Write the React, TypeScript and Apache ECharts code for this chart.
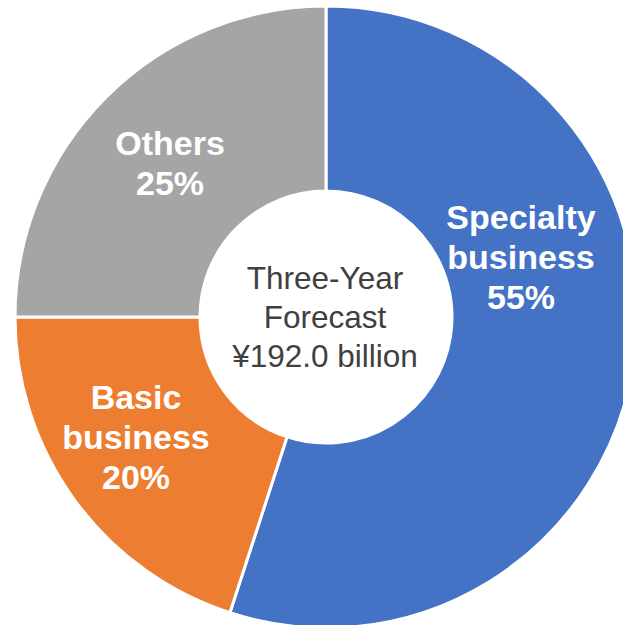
import React, { useEffect, useRef } from "react";
import * as echarts from "echarts";

const categories = ["Specialty\nbusiness", "Basic\nbusiness", "Others"];
const shares = [55, 20, 25];
const colors = ["#4472C4", "#ED7D31", "#A5A5A5"];
const centerLines = ["Three-Year", "Forecast", "¥192.0 billion"];
const labelAnchors: [number, number][] = [
  [521, 257],
  [136, 437],
  [170, 163],
];

export default function App() {
  const ref = useRef<HTMLDivElement>(null);
  useEffect(() => {
    if (!ref.current) return;
    const chart = echarts.init(ref.current, null, { renderer: "svg" });
    chart.setOption({
      animation: false,
      backgroundColor: "#ffffff",
      series: [
        {
          type: "pie",
          center: [326, 317],
          radius: [126, 311],
          startAngle: 90,
          clockwise: true,
          avoidLabelOverlap: false,
          itemStyle: { borderColor: "#ffffff", borderWidth: 3 },
          label: {
            show: true,
            position: "inside",
            color: "#ffffff",
            fontFamily: "Liberation Sans, Arial, sans-serif",
            fontWeight: "bold",
            fontSize: 34,
            lineHeight: 40,
            align: "center",
            verticalAlign: "middle",
            formatter: (p: any) => `${p.name}\n${p.value}%`,
          },
          labelLine: { show: false },
          labelLayout: (params: any) => {
            const a = labelAnchors[params.dataIndex];
            return { x: a[0], y: a[1], align: "center", verticalAlign: "middle" };
          },
          emphasis: { disabled: true },
          data: categories.map((c, i) => ({
            name: c,
            value: shares[i],
            itemStyle: { color: colors[i] },
          })),
        },
      ],
      graphic: [
        {
          type: "text",
          x: 325,
          y: 317,
          style: {
            text: centerLines.join("\n"),
            fill: "#404040",
            font: "31.5px 'Liberation Sans', Arial, sans-serif",
            lineHeight: 39,
            align: "center",
            verticalAlign: "middle",
          },
        },
      ],
    });
    return () => chart.dispose();
  }, []);
  return (
    <div
      ref={ref}
      style={{ position: "fixed", left: 0, top: 0, width: 623, height: 625 }}
    />
  );
}
